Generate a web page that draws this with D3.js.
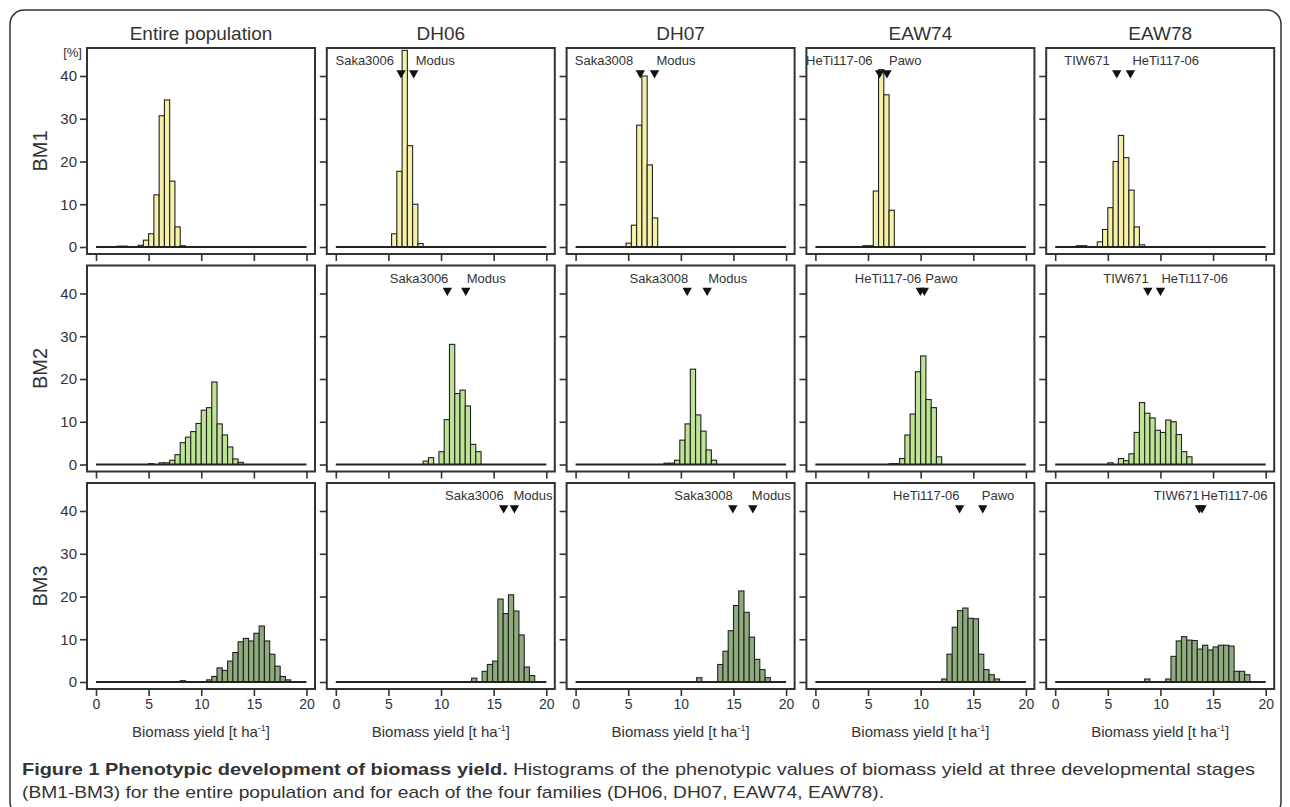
<!DOCTYPE html>
<html>
<head>
<meta charset="utf-8">
<script src="https://cdn.jsdelivr.net/npm/d3@7"></script>
<style>
    body { margin: 0; background: #fff; }
    svg text { font-family: "Liberation Sans", Arial, sans-serif; fill: #333; }
    text.caption { font-family: "Liberation Sans Narrow", "Liberation Sans", sans-serif; }
</style>
</head>
<body>
<svg id="chart" width="1290" height="807"></svg>
<script>
// stages (rows) and groups (columns)
const stages = ["BM1", "BM2", "BM3"];
const groups = ["Entire population", "DH06", "DH07", "EAW74", "EAW78"];
const xTicks = [0, 5, 10, 15, 20];
const yTicks = [0, 10, 20, 30, 40];
const binWidth = 0.5;

// lower edge of first bin [t/ha] and bar heights [%] per group
const bm1Start = [2.0, 5.3, 4.8, 4.5, 2.0];
const bm1Pct = [
    [0.2, 0.2, 0, 0, 0.4, 1.6, 3.1, 12.2, 30.7, 34.4, 15.4, 4.7, 0.3],
    [3.1, 17.7, 46, 23.7, 10.0, 0.8],
    [0.9, 5.1, 28.5, 40, 19.2, 6.8],
    [0.3, 0.3, 13.1, 41.5, 35.6, 8.6],
    [0.3, 0.3, 0, 0, 1.2, 4.1, 9.2, 20.0, 26.1, 20.9, 13.3, 4.7, 0.5]
];
const bm2Start = [5.0, 8.3, 8.4, 7.0, 5.0];
const bm2Pct = [
    [0.2, 0, 0.4, 0.4, 1.0, 2.3, 5.1, 6.4, 7.7, 9.6, 12.7, 13.3, 19.3, 9.5, 6.9, 4.1, 1.3, 0.5],
    [0.8, 1.6, 0, 3.0, 10.5, 28.1, 16.6, 17.4, 13.7, 4.7, 3.0],
    [0.3, 0.3, 1.0, 5.7, 9.5, 22.3, 11.6, 7.8, 3.4, 1.0],
    [0.2, 0.2, 1.4, 6.9, 11.8, 21.7, 25.4, 15.2, 13.3, 1.8],
    [0.4, 0, 1.4, 0.9, 2.5, 7.5, 14.5, 12.0, 10.9, 8.0, 7.5, 10.4, 10.0, 7.0, 3.0, 1.8]
];
const bm3Start = [8.0, 12.9, 11.5, 12.0, 8.5];
const bm3Pct = [
    [0.3, 0, 0, 0, 0, 0.5, 1.3, 3.3, 2.7, 4.9, 6.9, 9.4, 10.2, 9.6, 11.4, 13.1, 9.6, 6.5, 3.7, 1.3, 0.5],
    [0.9, 0, 2.5, 4.1, 4.9, 19.4, 16.0, 20.4, 16.6, 11.0, 3.5, 1.5],
    [1.0, 0, 0, 0, 4.1, 7.2, 12.0, 17.9, 21.3, 16.3, 10.5, 5.3, 2.9, 1.0],
    [0.7, 6.5, 12.8, 16.7, 17.3, 14.9, 14.8, 6.5, 2.9, 1.7, 0.7],
    [0.7, 0, 0, 0, 0.7, 6.0, 9.6, 10.6, 9.8, 9.7, 7.7, 8.6, 7.5, 8.2, 8.6, 8.6, 8.4, 2.5, 2.5, 1.7]
];

// parents of each family and their mean yield per stage
const parentNames = [null, ["Saka3006", "Modus"], ["Saka3008", "Modus"], ["HeTi117-06", "Pawo"], ["TIW671", "HeTi117-06"]];
const bm1Parents = [null, [6.2, 7.4], [6.15, 7.5], [6.1, 6.8], [5.85, 7.15]];
const bm2Parents = [null, [10.6, 12.35], [10.6, 12.5], [9.97, 10.35], [8.8, 10.0]];
const bm3Parents = [null, [15.95, 16.97], [14.94, 16.84], [13.7, 15.9], [13.7, 13.95]];

const starts = [bm1Start, bm2Start, bm3Start];
const pcts = [bm1Pct, bm2Pct, bm3Pct];
const parents = [bm1Parents, bm2Parents, bm3Parents];
const fills = ["#f6f1a6", "#bde495", "#8dab7c"];

// layout
const left0 = 87, top0 = 48;
const panelW = 228, panelH = 206;
const colStep = 239.8, rowStep = 217.5;
const labelGap = [[8, 3], [0, 2], [1, 0]];   // px between marker and its name, per row

var svg = d3.select("#chart");

// outer frame
svg.append("rect")
    .attr("x", 10).attr("y", 10)
    .attr("width", 1271).attr("height", 806)
    .attr("rx", 14)
    .attr("fill", "none")
    .attr("stroke", "#333")
    .attr("stroke-width", 1.5);

var xScale = d3.scaleLinear().domain([0, 20]).range([9, 219.5]);
var yScale = d3.scaleLinear().domain([0, 40]).range([199, 28]);

stages.forEach(function (stage, r) {
    // row label
    svg.append("text")
        .attr("transform", "translate(47," + (top0 + r * rowStep + panelH / 2) + ") rotate(-90)")
        .attr("text-anchor", "middle")
        .attr("font-size", 20)
        .text(stage);

    groups.forEach(function (group, c) {
        var px = left0 + c * colStep, py = top0 + r * rowStep;
        var g = svg.append("g").attr("transform", "translate(" + px + "," + py + ")");

        if (r === 0) {
            svg.append("text")
                .attr("x", px + panelW / 2).attr("y", 40)
                .attr("text-anchor", "middle")
                .attr("font-size", 19)
                .text(group);
        }

        // bars
        var bins = pcts[r][c].map(function (v, i) {
            return { x0: starts[r][c] + i * binWidth, v: v };
        }).filter(function (d) { return d.v > 0; });

        g.selectAll("rect.bar")
            .data(bins)
            .enter().append("rect")
            .attr("class", "bar")
            .attr("x", function (d) { return xScale(d.x0); })
            .attr("width", xScale(binWidth) - xScale(0))
            .attr("y", function (d) { return yScale(d.v); })
            .attr("height", function (d) { return yScale(0) - yScale(d.v); })
            .attr("fill", fills[r])
            .attr("stroke", "#222")
            .attr("stroke-width", 1.1);

        // zero line
        g.append("line")
            .attr("x1", xScale(0)).attr("x2", xScale(20))
            .attr("y1", yScale(0)).attr("y2", yScale(0))
            .attr("stroke", "#222")
            .attr("stroke-width", 2);

        // box
        g.append("rect")
            .attr("width", panelW).attr("height", panelH)
            .attr("fill", "none")
            .attr("stroke", "#333")
            .attr("stroke-width", 2);

        var yAxis = d3.axisLeft(yScale)
            .tickValues(yTicks)
            .tickSize(7)
            .tickFormat(c === 0 ? d3.format("d") : "");
        var ya = g.append("g").call(yAxis);
        ya.select(".domain").remove();
        ya.selectAll("line").attr("stroke", "#333").attr("stroke-width", 1.6);
        ya.selectAll("text").attr("font-size", 15).attr("fill", "#333").attr("font-family", "Liberation Sans, Arial, sans-serif");

        var xAxis = d3.axisBottom(xScale)
            .tickValues(xTicks)
            .tickSize(7)
            .tickFormat(r === stages.length - 1 ? d3.format("d") : "");
        var xa = g.append("g").attr("transform", "translate(0," + panelH + ")").call(xAxis);
        xa.select(".domain").remove();
        xa.selectAll("line").attr("stroke", "#333").attr("stroke-width", 1.6);
        xa.selectAll("text").attr("font-size", 14).attr("fill", "#333").attr("font-family", "Liberation Sans, Arial, sans-serif");

        if (r === 0 && c === 0) {
            g.append("text")
                .attr("x", -5).attr("y", 9)
                .attr("text-anchor", "end")
                .attr("font-size", 13)
                .text("[%]");
        }

        if (r === stages.length - 1) {
            var t = g.append("text")
                .attr("x", panelW / 2).attr("y", panelH + 48)
                .attr("text-anchor", "middle")
                .attr("font-size", 15);
            t.append("tspan").text("Biomass yield [t ha");
            t.append("tspan").attr("font-size", 9).attr("dy", -6).text("-1");
            t.append("tspan").attr("dy", 6).text("]");
        }

        // parent markers
        var pv = parents[r][c];
        if (pv) {
            var x1 = xScale(pv[0]), x2 = xScale(pv[1]);
            g.selectAll("path.parent")
                .data(pv)
                .enter().append("path")
                .attr("class", "parent")
                .attr("d", d3.symbol(d3.symbolTriangle, 38))
                .attr("transform", function (d) { return "translate(" + xScale(d) + ",25) rotate(180)"; })
                .attr("fill", "#111");
            g.append("text")
                .attr("x", x1 + 1 - labelGap[r][0]).attr("y", 17)
                .attr("text-anchor", "end")
                .attr("font-size", 13)
                .text(parentNames[c][0]);
            g.append("text")
                .attr("x", x2 - 1 + labelGap[r][1]).attr("y", 17)
                .attr("font-size", 13)
                .text(parentNames[c][1]);
        }
    });
});

// caption
var cap = svg.append("text")
    .attr("class", "caption")
    .attr("x", 22).attr("y", 775)
    .attr("font-size", 17)
    .attr("textLength", 1233)
    .attr("lengthAdjust", "spacingAndGlyphs");
cap.append("tspan").attr("font-weight", "bold").text("Figure 1 Phenotypic development of biomass yield.");
cap.append("tspan").text(" Histograms of the phenotypic values of biomass yield at three developmental stages");
svg.append("text")
    .attr("class", "caption")
    .attr("x", 22).attr("y", 798)
    .attr("font-size", 17)
    .attr("textLength", 862)
    .attr("lengthAdjust", "spacingAndGlyphs")
    .text("(BM1-BM3) for the entire population and for each of the four families (DH06, DH07, EAW74, EAW78).");
</script>
</body>
</html>
